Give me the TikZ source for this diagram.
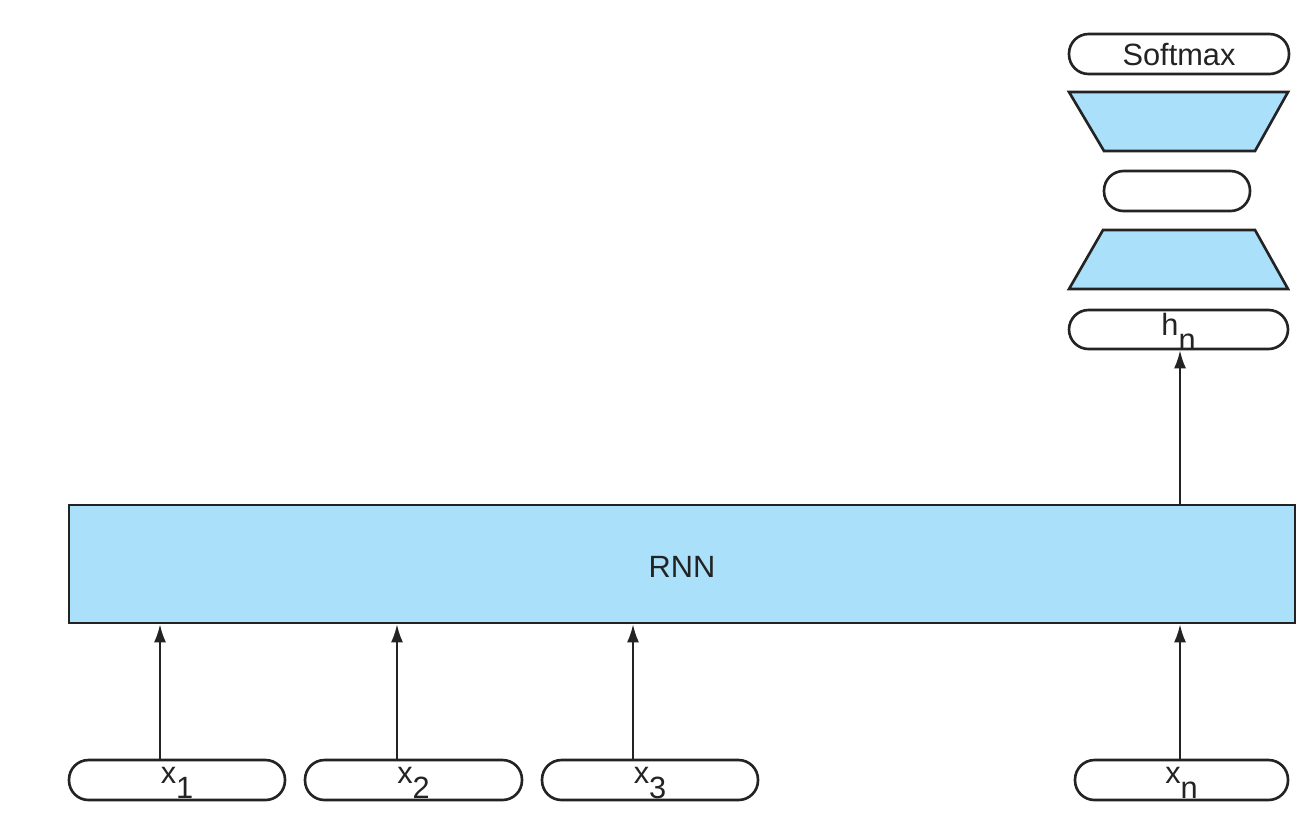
\documentclass[tikz,border=0pt]{standalone}
\usepackage{fontspec}
\setmainfont{Liberation Sans}
\usetikzlibrary{arrows.meta,calc}
\definecolor{layerblue}{RGB}{170,224,250}
\definecolor{edge}{RGB}{35,35,35}
\newcommand{\lowsub}[1]{\raisebox{-0.3cm}{#1}}
\begin{document}
\begin{tikzpicture}[x=0.02cm,y=-0.02cm,
  pill/.style={draw=edge,line width=1.5pt,rounded corners=0.39cm,minimum height=0.8cm,inner sep=0pt,fill=white},
  layer/.style={draw=edge,line width=1.5pt,fill=layerblue},
  lbl/.style={anchor=base,inner sep=0pt,text=edge,font=\fontsize{17.5}{20}\selectfont},
  arr/.style={draw=edge,line width=1.2pt,-{Latex[length=0.36cm,width=0.24cm]}}]
\useasboundingbox (0,0) rectangle (1310,826);

% recurrent layer
\node[layer,minimum width=24.52cm,minimum height=2.36cm,inner sep=0pt] (rnn) at (682,564) {};
\node[lbl] (rnnlbl) at (682,577) {RNN};

% input tokens
\node[pill,minimum width=4.32cm] (x1) at (177,780) {};
\node[pill,minimum width=4.34cm] (x2) at (413.5,780) {};
\node[pill,minimum width=4.32cm] (x3) at (650,780) {};
\node[pill,minimum width=4.26cm] (xn) at (1181.5,780) {};
\node[lbl] (x1lbl) at (177,783) {x\lowsub{1}};
\node[lbl] (x2lbl) at (413.5,783) {x\lowsub{2}};
\node[lbl] (x3lbl) at (650,783) {x\lowsub{3}};
\node[lbl] (xnlbl) at (1181.5,783) {x\lowsub{n}};

% classifier head
\node[pill,minimum width=4.38cm,minimum height=0.78cm] (hn) at (1178.5,329.5) {};
\node[lbl] (hnlbl) at (1178.5,335) {h\lowsub{n}};
\draw[layer] (1069,289) -- (1288,289) -- (1255,230) -- (1103,230) -- cycle;
\node[pill,minimum width=2.92cm] (mid) at (1177,191) {};
\draw[layer] (1069,92) -- (1288,92) -- (1255,151) -- (1104,151) -- cycle;
\node[pill,minimum width=4.4cm] (soft) at (1179,54) {};
\node[lbl] (softlbl) at (1179,65) {Softmax};

% connectors
\coordinate (a1) at ($(x1.north)+(-17,0)$);
\coordinate (a2) at ($(x2.north)+(-16.5,0)$);
\coordinate (a3) at ($(x3.north)+(-17,0)$);
\coordinate (an) at ($(xn.north)+(-1.5,0)$);
\coordinate (ah) at ($(hn.south)+(1.5,0)$);
\draw[arr] (a1) -- (a1 |- rnn.south);
\draw[arr] (a2) -- (a2 |- rnn.south);
\draw[arr] (a3) -- (a3 |- rnn.south);
\draw[arr] (an) -- (an |- rnn.south);
\draw[arr] (ah |- rnn.north) -- (ah);
\end{tikzpicture}
\end{document}
